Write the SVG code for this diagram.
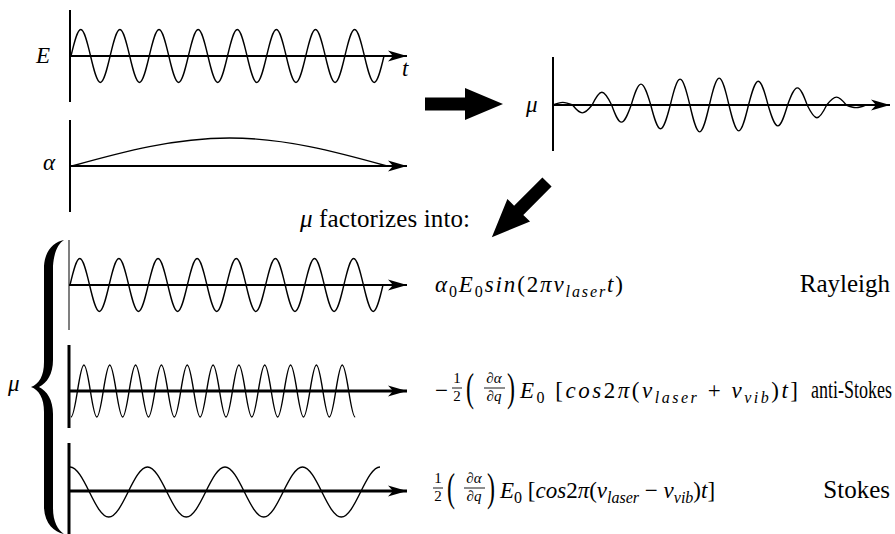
<svg xmlns="http://www.w3.org/2000/svg" xmlns:xlink="http://www.w3.org/1999/xlink" width="895" height="534" viewBox="0 0 895 534" font-family="Liberation Serif, Times New Roman, Times, DejaVu Serif, serif">
<style>
.ax{stroke:#000;fill:none;stroke-width:2}
.ax3{stroke:#000;fill:none;stroke-width:3}
.wv{stroke:#000;fill:none;stroke-width:1.4}
.lbl{font-style:italic;font-size:23px}
.txt{font-size:25px}
.m{font-style:italic;font-size:23px}
.r{font-style:normal}
.sub{font-size:16px}
.fr{font-size:15px}
.frl{stroke:#000;stroke-width:0.9}
.big{font-size:40px}
</style>
<defs>
<marker id="ah" markerUnits="userSpaceOnUse" markerWidth="22" markerHeight="14" viewBox="-20 -7 22 14" refX="0" refY="0" orient="auto">
<path d="M0,0 L-19,-5.5 L-14,0 L-19,5.5 Z" fill="#000"/>
</marker>
<path id="w8" class="wv" d="M0,0 c3.187,-13.563 6.372,-26.5 9.781,-26.5 c3.41,0 6.594,12.937 9.781,26.5 c3.187,13.563 6.372,26.5 9.781,26.5 c3.41,0 6.594,-12.937 9.781,-26.5 c3.187,-13.563 6.372,-26.5 9.781,-26.5 c3.41,0 6.594,12.937 9.781,26.5 c3.187,13.563 6.372,26.5 9.781,26.5 c3.41,0 6.594,-12.937 9.781,-26.5 c3.187,-13.563 6.372,-26.5 9.781,-26.5 c3.41,0 6.594,12.937 9.781,26.5 c3.187,13.563 6.372,26.5 9.781,26.5 c3.41,0 6.594,-12.937 9.781,-26.5 c3.187,-13.563 6.372,-26.5 9.781,-26.5 c3.41,0 6.594,12.937 9.781,26.5 c3.187,13.563 6.372,26.5 9.781,26.5 c3.41,0 6.594,-12.937 9.781,-26.5 c3.187,-13.563 6.372,-26.5 9.781,-26.5 c3.41,0 6.594,12.937 9.781,26.5 c3.187,13.563 6.372,26.5 9.781,26.5 c3.41,0 6.594,-12.937 9.781,-26.5 c3.187,-13.563 6.372,-26.5 9.781,-26.5 c3.41,0 6.594,12.937 9.781,26.5 c3.187,13.563 6.372,26.5 9.781,26.5 c3.41,0 6.594,-12.937 9.781,-26.5 c3.187,-13.563 6.372,-26.5 9.781,-26.5 c3.41,0 6.594,12.937 9.781,26.5 c3.187,13.563 6.372,26.5 9.781,26.5 c3.41,0 6.594,-12.937 9.781,-26.5 c3.187,-13.563 6.372,-26.5 9.781,-26.5 c3.41,0 6.594,12.937 9.781,26.5 c3.187,13.563 6.372,26.5 9.781,26.5 c3.41,0 6.594,-12.937 9.781,-26.5"/>
<path id="bigarrow" d="M0,-6.5 L40,-6.5 L40,-16 L78,0 L40,16 L40,6.5 L0,6.5 Z" fill="#000"/>
</defs>

<g id="plot-E">
<line class="ax" x1="70" y1="10" x2="70" y2="102"/>
<line class="ax" x1="70" y1="56" x2="407" y2="56" marker-end="url(#ah)"/>
<use xlink:href="#w8" x="71" y="56"/>
<text class="lbl" x="36" y="63">E</text>
<text class="lbl" x="402" y="76">t</text>
</g>

<g id="plot-alpha">
<line class="ax" x1="70" y1="120" x2="70" y2="212"/>
<line class="ax" x1="70" y1="166" x2="407" y2="166" marker-end="url(#ah)"/>
<path class="wv" d="M72,166 c51.31,-14.33 102.6,-28 157.5,-28 c54.9,0 106.19,13.67 157.5,28"/>
<text class="lbl" x="43" y="170">α</text>
</g>

<g id="plot-mu">
<line class="ax" x1="553" y1="57" x2="553" y2="151" stroke-width="1.6"/>
<line class="ax" x1="553" y1="105" x2="890" y2="105" marker-end="url(#ah)"/>
<path class="wv" d="M553,105 c3.185,-1.356 6.367,-2.65 9.775,-2.65 c3.408,0 6.59,1.294 9.775,2.65 c3.185,4.012 6.367,7.84 9.775,7.84 c3.408,0 6.59,-3.828 9.775,-7.84 c3.185,-6.515 6.367,-12.73 9.775,-12.73 c3.408,0 6.59,6.215 9.775,12.73 c3.185,8.767 6.367,17.13 9.775,17.13 c3.408,0 6.59,-8.363 9.775,-17.13 c3.185,-10.681 6.367,-20.87 9.775,-20.87 c3.408,0 6.59,10.189 9.775,20.87 c3.185,12.186 6.367,23.81 9.775,23.81 c3.408,0 6.59,-11.624 9.775,-23.81 c3.185,-13.225 6.367,-25.84 9.775,-25.84 c3.408,0 6.59,12.615 9.775,25.84 c3.185,13.752 6.367,26.87 9.775,26.87 c3.408,0 6.59,-13.118 9.775,-26.87 c3.185,-13.752 6.367,-26.87 9.775,-26.87 c3.408,0 6.59,13.118 9.775,26.87 c3.185,13.225 6.367,25.84 9.775,25.84 c3.408,0 6.59,-12.615 9.775,-25.84 c3.185,-12.186 6.367,-23.81 9.775,-23.81 c3.408,0 6.59,11.624 9.775,23.81 c3.185,10.681 6.367,20.87 9.775,20.87 c3.408,0 6.59,-10.189 9.775,-20.87 c3.185,-8.767 6.367,-17.13 9.775,-17.13 c3.408,0 6.59,8.363 9.775,17.13 c3.185,6.515 6.367,12.73 9.775,12.73 c3.408,0 6.59,-6.215 9.775,-12.73 c3.185,-4.012 6.367,-7.84 9.775,-7.84 c3.408,0 6.59,3.828 9.775,7.84 c3.185,1.356 6.367,2.65 9.775,2.65 c3.408,0 6.59,-1.294 9.775,-2.65"/>
<text class="lbl" x="526" y="112">μ</text>
</g>

<g id="connectors">
<use xlink:href="#bigarrow" transform="translate(425,104)"/>
<use xlink:href="#bigarrow" transform="translate(547,182) rotate(135)"/>
</g>

<g id="caption">
<text class="txt" x="300" y="227" textLength="170"><tspan font-style="italic">μ</tspan> factorizes into:</text>
</g>

<g id="brace">
<path fill="#000" d="M64,240 C54,242 45,250 44,266 L44,362 C44,376 39,384 31,387 C39,390 44,398 44,412 L44,508 C45,524 54,532 64,534 C58,530 53,522 53,508 L53,414 C53,400 47,391 39,387 C47,383 53,374 53,360 L53,266 C54,252 58,244 64,240 Z"/>
<text class="lbl" x="8" y="391">μ</text>
</g>

<g id="row-rayleigh">
<line x1="69" y1="240" x2="69" y2="330" stroke="#555" stroke-width="1.5"/>
<line class="ax" x1="69" y1="285" x2="407" y2="285" stroke-width="2.5" marker-end="url(#ah)"/>
<use xlink:href="#w8" x="70" y="285"/>
<text class="m" x="435" y="292" textLength="188">α<tspan class="sub r" dy="5">0</tspan><tspan dy="-5">E</tspan><tspan class="sub r" dy="5">0</tspan><tspan dy="-5">sin</tspan><tspan class="r">(2</tspan>πν<tspan class="sub" dy="5">laser</tspan><tspan dy="-5">t</tspan><tspan class="r">)</tspan></text>
<text class="txt" x="890" y="292" text-anchor="end">Rayleigh</text>
</g>

<g id="row-antistokes">
<line class="ax3" x1="69" y1="345" x2="69" y2="428"/>
<line class="ax3" x1="69" y1="391" x2="407" y2="391" marker-end="url(#ah)"/>
<path class="wv" d="M71,417 c2.251,0 4.354,-12.693 6.458,-26 c2.104,-13.307 4.207,-26 6.458,-26 c2.251,0 4.354,12.693 6.458,26 c2.104,13.307 4.207,26 6.458,26 c2.251,0 4.354,-12.693 6.458,-26 c2.104,-13.307 4.207,-26 6.458,-26 c2.251,0 4.354,12.693 6.458,26 c2.104,13.307 4.207,26 6.458,26 c2.251,0 4.354,-12.693 6.458,-26 c2.104,-13.307 4.207,-26 6.458,-26 c2.251,0 4.354,12.693 6.458,26 c2.104,13.307 4.207,26 6.458,26 c2.251,0 4.354,-12.693 6.458,-26 c2.104,-13.307 4.207,-26 6.458,-26 c2.251,0 4.354,12.693 6.458,26 c2.104,13.307 4.207,26 6.458,26 c2.251,0 4.354,-12.693 6.458,-26 c2.104,-13.307 4.207,-26 6.458,-26 c2.251,0 4.354,12.693 6.458,26 c2.104,13.307 4.207,26 6.458,26 c2.251,0 4.354,-12.693 6.458,-26 c2.104,-13.307 4.207,-26 6.458,-26 c2.251,0 4.354,12.693 6.458,26 c2.104,13.307 4.207,26 6.458,26 c2.251,0 4.354,-12.693 6.458,-26 c2.104,-13.307 4.207,-26 6.458,-26 c2.251,0 4.354,12.693 6.458,26 c2.104,13.307 4.207,26 6.458,26 c2.251,0 4.354,-12.693 6.458,-26 c2.104,-13.307 4.207,-26 6.458,-26 c2.251,0 4.354,12.693 6.458,26 c2.104,13.307 4.207,26 6.458,26 c2.251,0 4.354,-12.693 6.458,-26 c2.104,-13.307 4.207,-26 6.458,-26 c2.251,0 4.354,12.693 6.458,26 c2.104,13.307 4.207,26 6.458,26 c2.251,0 4.354,-12.693 6.458,-26 c2.104,-13.307 4.207,-26 6.458,-26 c2.251,0 4.354,12.693 6.458,26 c2.104,13.307 4.207,26 6.458,26 c2.251,0 4.354,-12.693 6.458,-26 c2.104,-13.307 4.207,-26 6.458,-26 c2.251,0 4.354,12.693 6.458,26 c2.104,13.307 4.207,26 6.458,26"/>
<text class="m r" x="435" y="398">−</text>
<text class="fr" x="457" y="383" text-anchor="middle">1</text>
<line class="frl" x1="452" y1="388" x2="462" y2="388"/>
<text class="fr" x="457" y="401" text-anchor="middle">2</text>
<text class="big" transform="translate(466,401) scale(0.6,1)">(</text>
<text class="fr" x="494" y="383" text-anchor="middle">∂<tspan font-style="italic">α</tspan></text>
<line class="frl" x1="484" y1="388" x2="505" y2="388"/>
<text class="fr" x="494" y="401" text-anchor="middle">∂<tspan font-style="italic">q</tspan></text>
<text class="big" transform="translate(507,401) scale(0.6,1)">)</text>
<text class="m" x="520" y="398" textLength="278">E<tspan class="sub r" dy="5">0</tspan><tspan class="r" dy="-5"> [</tspan>cos<tspan class="r">2</tspan>π<tspan class="r">(</tspan>ν<tspan class="sub" dy="5">laser</tspan><tspan class="r" dy="-5"> + </tspan>ν<tspan class="sub" dy="5">vib</tspan><tspan class="r" dy="-5">)</tspan>t<tspan class="r">]</tspan></text>
<text class="txt" transform="translate(892,398) scale(0.72,1)" x="0" y="0" text-anchor="end">anti-Stokes</text>
</g>

<g id="row-stokes">
<line class="ax3" x1="69" y1="443" x2="69" y2="534"/>
<line class="ax3" x1="69" y1="491" x2="407" y2="491" marker-end="url(#ah)"/>
<path class="wv" d="M70,467 c6.754,0 13.063,12.205 19.375,25 c6.312,12.795 12.621,25 19.375,25 c6.754,0 13.063,-12.205 19.375,-25 c6.312,-12.795 12.621,-25 19.375,-25 c6.754,0 13.063,12.205 19.375,25 c6.312,12.795 12.621,25 19.375,25 c6.754,0 13.063,-12.205 19.375,-25 c6.312,-12.795 12.621,-25 19.375,-25 c6.754,0 13.063,12.205 19.375,25 c6.312,12.795 12.621,25 19.375,25 c6.754,0 13.063,-12.205 19.375,-25 c6.312,-12.795 12.621,-25 19.375,-25 c6.754,0 13.063,12.205 19.375,25 c6.312,12.795 12.621,25 19.375,25 c6.754,0 13.063,-12.205 19.375,-25 c6.312,-12.795 12.621,-25 19.375,-25"/>
<text class="fr" x="438" y="483" text-anchor="middle">1</text>
<line class="frl" x1="433" y1="488" x2="443" y2="488"/>
<text class="fr" x="438" y="501" text-anchor="middle">2</text>
<text class="big" transform="translate(447,501) scale(0.6,1)">(</text>
<text class="fr" x="474" y="483" text-anchor="middle">∂<tspan font-style="italic">α</tspan></text>
<line class="frl" x1="464" y1="488" x2="485" y2="488"/>
<text class="fr" x="474" y="501" text-anchor="middle">∂<tspan font-style="italic">q</tspan></text>
<text class="big" transform="translate(487,501) scale(0.6,1)">)</text>
<text class="m" x="500" y="498">E<tspan class="sub r" dy="5">0</tspan><tspan class="r" dy="-5"> [</tspan>cos<tspan class="r">2</tspan>π<tspan class="r">(</tspan>ν<tspan class="sub" dy="5">laser</tspan><tspan class="r" dy="-5"> − </tspan>ν<tspan class="sub" dy="5">vib</tspan><tspan class="r" dy="-5">)</tspan>t<tspan class="r">]</tspan></text>
<text class="txt" x="890" y="498" text-anchor="end">Stokes</text>
</g>
</svg>
